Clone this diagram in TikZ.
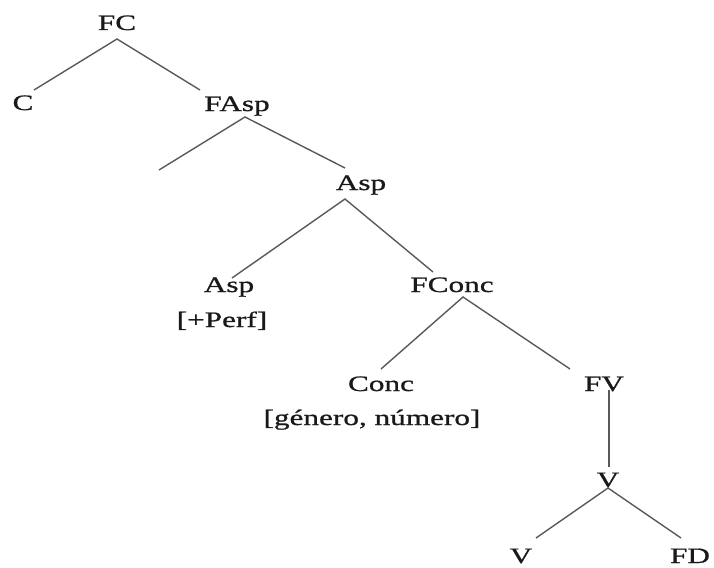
\documentclass[tikz,border=0pt]{standalone}
\usepackage{fontspec}
\setmainfont[FakeStretch=1.42,FakeBold=0.9]{Liberation Serif}
\begin{document}
\begin{tikzpicture}[x=1pt,y=-1pt,
  lbl/.style={anchor=base,inner sep=0pt,font=\fontsize{22}{26}\selectfont,text=black!90},
  edge/.style={draw=black!65,line width=1.4pt}]
\useasboundingbox (0,0) rectangle (714,567);
% category labels
\node[lbl] (fc)    at (117,30)  {FC};
\node[lbl] (c)     at (23,110)  {C};
\node[lbl] (fasp)  at (237,111) {FAsp};
\node[lbl] (asp)   at (361,190) {Asp};
\node[lbl] (asph)  at (229,292) {Asp};
\node[lbl] (perf)  at (222,327) {[+Perf]};
\node[lbl] (fconc) at (452,292) {FConc};
\node[lbl] (conc)  at (381,391) {Conc};
\node[lbl] (gn)    at (372,425) {[género, número]};
\node[lbl] (fv)    at (604,391) {FV};
\node[lbl] (vbar)  at (608,487) {V};
\node[lbl] (v)     at (521,563) {V};
\node[lbl] (fd)    at (690,563) {FD};
% branch end points
\coordinate (fc-b)    at (117,39);
\coordinate (c-t)     at (34,90);
\coordinate (fasp-t)  at (200,90);
\coordinate (fasp-b)  at (245,117);
\coordinate (spec)    at (159,170);
\coordinate (asp-t)   at (345,168);
\coordinate (asp-b)   at (345,199);
\coordinate (asph-t)  at (232,278);
\coordinate (fconc-t) at (433,272);
\coordinate (fconc-b) at (463,297);
\coordinate (conc-t)  at (381,369);
\coordinate (fv-t)    at (570,369);
\coordinate (fv-b)    at (609,390);
\coordinate (vbar-t)  at (609,467);
\coordinate (vbar-b)  at (608,488);
\coordinate (v-t)     at (536,538);
\coordinate (fd-t)    at (681,538);
% branches
\draw[edge] (c-t) -- (fc-b) -- (fasp-t);
\draw[edge] (spec) -- (fasp-b) -- (asp-t);
\draw[edge] (asph-t) -- (asp-b) -- (fconc-t);
\draw[edge] (conc-t) -- (fconc-b) -- (fv-t);
\draw[edge] (fv-b) -- (vbar-t);
\draw[edge] (v-t) -- (vbar-b) -- (fd-t);
\end{tikzpicture}
\end{document}
